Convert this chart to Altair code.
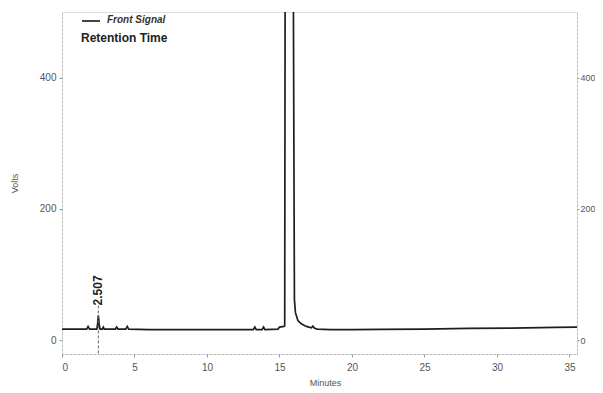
import altair as alt
import pandas as pd

# Chromatogram trace (minutes, volts)
times = [0.0, 1.70, 1.80, 1.90, 2.40, 2.46, 2.507, 2.56, 2.62, 2.78, 2.85, 2.92,
         3.68, 3.77, 3.86, 4.40, 4.50, 4.60, 6.0, 8.0, 10.0, 12.0,
         13.20, 13.30, 13.40, 13.80, 13.90, 14.00, 14.90, 15.00, 15.30, 15.36,
         15.41, 15.55, 15.75, 15.90, 16.03, 16.10, 16.27, 16.50, 16.85, 17.20,
         17.30, 17.40, 17.60, 18.5, 20.0, 22.0, 25.0, 28.0, 31.0, 34.0, 36.0]
volts = [17, 17, 21, 17, 17, 25, 38, 25, 17, 17, 20, 17,
         17, 20, 17, 17, 21, 17, 16, 16, 16, 16,
         16, 20, 16, 16, 20, 16, 17, 20, 21, 22,
         900, 1600, 1600, 900, 62, 42, 30, 25, 21, 19,
         21.5, 18.5, 17, 16, 16, 16.5, 17, 18, 18.5, 19.5, 20]

peak_time = [2.507]
peak_label = ["2.507"]
marker_top = [53]
marker_bottom = [-21]

x_ticks = [0, 5, 10, 15, 20, 25, 30, 35]
y_ticks = [0, 200, 400]

legend_series = "Front Signal"
legend_title = "Retention Time"

signal = pd.DataFrame({"Minutes": times, "Volts": volts})
peak = pd.DataFrame({"t": peak_time, "label": peak_label,
                     "top": marker_top, "bottom": marker_bottom})
one = pd.DataFrame({"a": [0]})

FONT = "Liberation Sans"
LBL = "#555555"
AXC = "#9a9a9a"

xscale = alt.Scale(domain=[0, 35.52], nice=False, zero=False)
yscale = alt.Scale(domain=[-21, 500], nice=False, zero=False)

line = alt.Chart(signal).mark_line(color="#1e1e1e", strokeWidth=1.7, clip=True).encode(
    x=alt.X("Minutes:Q", scale=xscale,
            axis=alt.Axis(values=x_ticks, title="Minutes", grid=False,
                          domainColor=AXC, domainDash=[1, 3], tickColor=AXC,
                          tickSize=3, labelPadding=5, labelColor=LBL,
                          labelFont=FONT, labelFontSize=10, titleFont=FONT,
                          titleFontSize=9, titleFontWeight="normal",
                          titleColor=LBL, titlePadding=6, titleX=263)),
    y=alt.Y("Volts:Q", scale=yscale,
            axis=alt.Axis(values=y_ticks, title="Volts", grid=False, orient="left",
                          domainColor=AXC, domainDash=[1, 3], tickColor=AXC,
                          tickSize=3, labelPadding=3, labelColor=LBL,
                          labelFont=FONT, labelFontSize=10, titleFont=FONT,
                          titleFontSize=9, titleFontWeight="normal",
                          titleColor=LBL, titlePadding=20)),
)

right = alt.Chart(signal).mark_line(opacity=0).encode(
    x=alt.X("Minutes:Q", scale=xscale),
    y=alt.Y("Volts:Q", scale=yscale,
            axis=alt.Axis(values=y_ticks, title=None, grid=False, orient="right",
                          domainColor=AXC, domainDash=[1, 3], tickColor=AXC,
                          tickSize=2, labelPadding=1, labelColor=LBL,
                          labelFont=FONT, labelFontSize=9)),
)

marker = alt.Chart(peak).mark_rule(color="#666666", strokeDash=[3, 2], strokeWidth=1).encode(
    x=alt.X("t:Q", scale=xscale),
    y=alt.Y("top:Q", scale=yscale, axis=None),
    y2="bottom:Q",
)

plabel = alt.Chart(peak).mark_text(angle=270, align="left", baseline="middle",
                                   font=FONT, fontSize=12, fontWeight="bold",
                                   color="#222222").encode(
    x=alt.X("t:Q", scale=xscale),
    y=alt.Y("top:Q", scale=yscale, axis=None),
    text="label:N",
)

swatch = alt.Chart(one).mark_rule(color="#444444", strokeWidth=2).encode(
    x=alt.value(20), x2=alt.value(38), y=alt.value(9))
ltext1 = alt.Chart(one).mark_text(align="left", baseline="middle", font=FONT,
                                  fontSize=10, fontStyle="italic", fontWeight="bold",
                                  color="#333333").encode(
    x=alt.value(45), y=alt.value(8), text=alt.value(legend_series))
ltext2 = alt.Chart(one).mark_text(align="left", baseline="middle", font=FONT,
                                  fontSize=12, fontWeight="bold",
                                  color="#222222").encode(
    x=alt.value(19), y=alt.value(26), text=alt.value(legend_title))

chart = alt.layer(line, right, marker, plabel, swatch, ltext1, ltext2).resolve_scale(
    y="shared").resolve_axis(y="independent").properties(
    width=515, height=342,
    padding={"left": 54, "top": 4, "right": 18, "bottom": 32},
    autosize=alt.AutoSizeParams(type="none"),
).configure_view(stroke=AXC, strokeDash=[1, 3]).configure(background="white")

chart.save("out.html", embed_options={"renderer": "svg", "actions": False})
